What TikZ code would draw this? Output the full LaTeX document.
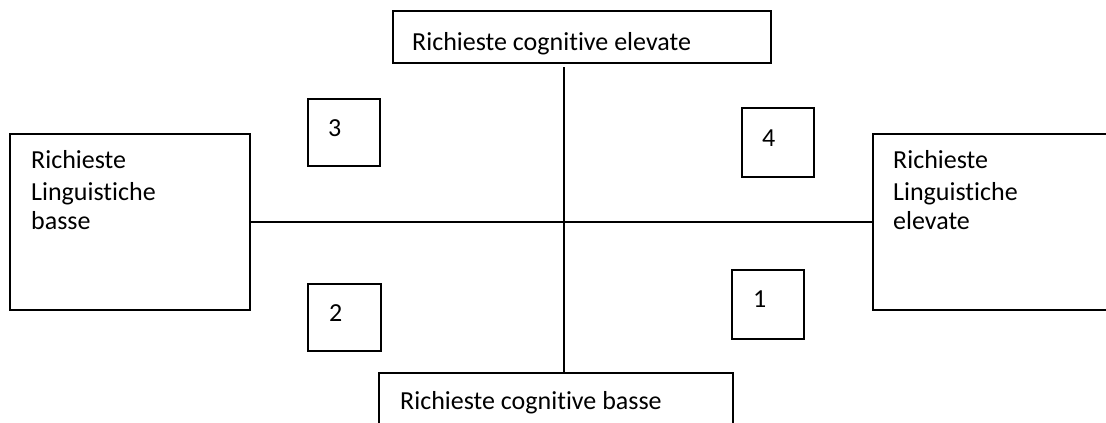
\documentclass[tikz,border=0pt]{standalone}
\usepackage{fontspec}
\setmainfont[Ligatures={NoCommon}]{Carlito}
\begin{document}
\begin{tikzpicture}[x=1pt,y=-1pt,
  frame/.style={draw, line width=1.5pt, rectangle, inner sep=0pt, anchor=north west},
  lbl/.style={inner sep=0pt, anchor=base west, font=\fontsize{26}{28.5}\selectfont},
  axis/.style={line width=1.5pt}]
\useasboundingbox (0,0) rectangle (1106,423);

% header and footer boxes (cognitive demand)
\node[frame, minimum width=378, minimum height=52] (top) at (392,10) {};
\node[frame, minimum width=354, minimum height=78] (bot) at (378,372) {};
% side boxes (linguistic demand)
\node[frame, minimum width=240, minimum height=176] (lbox) at (9,133) {};
\node[frame, minimum width=258, minimum height=176] (rbox) at (872,133) {};
% quadrant number boxes
\node[frame, minimum width=72, minimum height=67] (q3) at (307,98) {};
\node[frame, minimum width=72, minimum height=69] (q4) at (741,107) {};
\node[frame, minimum width=73, minimum height=67] (q2) at (307,283) {};
\node[frame, minimum width=72, minimum height=69] (q1) at (731,269) {};

% axes
\draw[axis] (lbox.east) -- (rbox.west);
\coordinate (vtop) at (564,67);
\draw[axis] (vtop) -- (vtop |- bot.north);

% labels
\node[lbl] (ttop) at (412,50) {Richieste cognitive elevate};
\node[lbl] (tbot) at (400,409) {Richieste cognitive basse};
\node[lbl] (tl1) at (31,168) {Richieste};
\node[lbl] (tl2) at (31,200) {Linguistiche};
\node[lbl] (tl3) at (31,229) {basse};
\node[lbl] (tr1) at (893,168) {Richieste};
\node[lbl] (tr2) at (893,200) {Linguistiche};
\node[lbl] (tr3) at (893,229) {elevate};
\node[lbl] (n3) at (328,136) {3};
\node[lbl] (n4) at (762,146) {4};
\node[lbl] (n2) at (329,321) {2};
\node[lbl] (n1) at (753,307) {1};
\end{tikzpicture}
\end{document}
